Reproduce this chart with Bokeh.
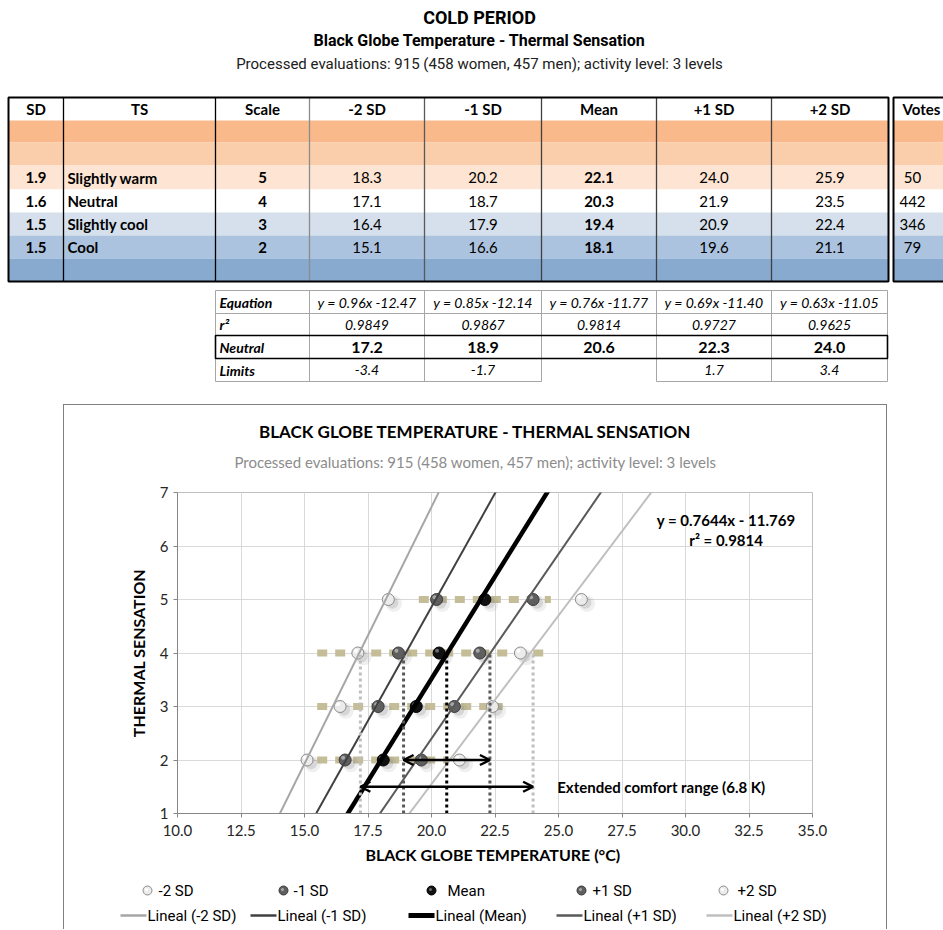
import numpy as np
from bokeh.plotting import figure
from bokeh.models import (Range1d, Label, Arrow, OpenHead, Spacer, FixedTicker,
                          NumeralTickFormatter)
from bokeh.layouts import column, row
from bokeh.embed import file_html
from bokeh.resources import INLINE
from bokeh.core.properties import value

# ---------------- data ----------------
page_title = "COLD PERIOD"
page_subtitle = "Black Globe Temperature - Thermal Sensation"
info_text = "Processed evaluations: 915 (458 women, 457 men); activity level: 3 levels"

table_headers = ["SD", "TS", "Scale", "-2 SD", "-1 SD", "Mean", "+1 SD", "+2 SD"]
sd_values = [1.9, 1.6, 1.5, 1.5]
ts_labels = ["Slightly warm", "Neutral", "Slightly cool", "Cool"]
ts_scale = [5, 4, 3, 2]
temp_m2sd = [18.3, 17.1, 16.4, 15.1]
temp_m1sd = [20.2, 18.7, 17.9, 16.6]
temp_mean = [22.1, 20.3, 19.4, 18.1]
temp_p1sd = [24.0, 21.9, 20.9, 19.6]
temp_p2sd = [25.9, 23.5, 22.4, 21.1]
votes = [50, 442, 346, 79]

series_names = ["-2 SD", "-1 SD", "Mean", "+1 SD", "+2 SD"]
fit_slopes = [0.96, 0.85, 0.7644, 0.69, 0.63]
fit_intercepts = [-12.47, -12.14, -11.769, -11.40, -11.05]
fit_r2 = [0.9849, 0.9867, 0.9814, 0.9727, 0.9625]
neutral_temps = [17.2, 18.9, 20.6, 22.3, 24.0]
limit_labels = ["-3.4", "-1.7", "", "1.7", "3.4"]

bar_levels = [5, 4, 3, 2]
bar_lo = [19.5, 15.5, 15.5, 15.5]
bar_hi = [24.7, 24.7, 22.8, 20.7]

x_ticks = [10.0, 12.5, 15.0, 17.5, 20.0, 22.5, 25.0, 27.5, 30.0, 32.5, 35.0]
y_ticks = [1, 2, 3, 4, 5, 6, 7]

chart_title = "BLACK GLOBE TEMPERATURE - THERMAL SENSATION"
x_label = "BLACK GLOBE TEMPERATURE  (\u00b0C)"
y_label = "THERMAL SENSATION"

# ---------------- styles ----------------
BODY = "Lato"
NARROW = "Roboto"

series_temps = [temp_m2sd, temp_m1sd, temp_mean, temp_p1sd, temp_p2sd]
line_colors = ["#A6A6A6", "#404040", "#000000", "#595959", "#BFBFBF"]
line_widths = [2, 2, 4.5, 2, 2]
dot_colors = ["#BFBFBF", "#595959", "#000000", "#595959", "#BFBFBF"]
mk_fill = ["#EBEBEB", "#5F5F5F", "#111111", "#5F5F5F", "#EBEBEB"]
mk_edge = ["#8C8C8C", "#3A3A3A", "#000000", "#3A3A3A", "#8C8C8C"]
mk_hi = ["#FFFFFF", "#A8A8A8", "#6A6A6A", "#A8A8A8", "#FFFFFF"]

BOX = "#7F7F7F"


def txt(p, xs, ys, texts, size="14px", style="normal", color="#000000",
        align="center", font=BODY):
    p.text(x=xs, y=ys, text=texts, text_align=align, text_baseline="middle",
           text_font=value(font), text_font_size=size, text_font_style=style,
           text_color=color)


def panel_fig(w, h, shadow):
    f = figure(width=w, height=h, x_range=Range1d(0, w), y_range=Range1d(h, 0),
               x_axis_type=None, y_axis_type=None, output_backend="svg",
               toolbar_location=None, min_border=0, outline_line_color=None,
               border_fill_color=None, background_fill_color=None,
               frame_align=False,
               styles={"box-shadow": shadow} if shadow else None)
    return f


# ================= top figure: titles + tables =================
pa = figure(width=943, height=404, x_range=Range1d(0, 943), y_range=Range1d(404, 0),
            x_axis_type=None, y_axis_type=None, output_backend="svg",
            toolbar_location=None, min_border=0, outline_line_color=None,
            frame_align=False)

txt(pa, [479], [17], [page_title], size="18px", style="bold", font=NARROW)
txt(pa, [479], [40], [page_subtitle], size="16px", style="bold", font=NARROW)
txt(pa, [479], [63], [info_text], size="15px", color="#202020", font=NARROW)

# main table
col_edges = [8, 63, 215, 309, 424, 541, 656, 771, 888]
row_edges = [97, 120, 142, 165, 189, 212, 235, 258, 281]
band_colors = ["#FFFFFF", "#F9B98B", "#FBCEAB", "#FDE4D3", "#FFFFFF",
               "#D5E0EC", "#ABC3DE", "#89AACF"]
pa.quad(left=8, right=888, top=row_edges[:-1], bottom=row_edges[1:],
        fill_color=band_colors, line_color=None)
pa.quad(left=893, right=960, top=row_edges[:-1], bottom=row_edges[1:],
        fill_color=band_colors, line_color=None)
sep_colors = ["#000000", "#000000", "#8C8C8C", "#595959", "#404040", "#404040", "#404040"]
pa.segment(x0=col_edges[1:-1], y0=97, x1=col_edges[1:-1], y1=281,
           line_color=sep_colors, line_width=1.3)
pa.quad(left=8, right=888, top=97, bottom=281, fill_color=None,
        line_color="#000000", line_width=2)
pa.quad(left=893, right=960, top=97, bottom=281, fill_color=None,
        line_color="#000000", line_width=2)

col_cx = [(a + b) / 2 for a, b in zip(col_edges[:-1], col_edges[1:])]
hdr_y = (row_edges[0] + row_edges[1]) / 2
TS_ = "15px"
txt(pa, col_cx, [hdr_y] * len(col_cx), table_headers, style="bold", size=TS_)
txt(pa, [921], [hdr_y], ["Votes"], style="bold", size=TS_)

data_y = [(row_edges[i] + row_edges[i + 1]) / 2 for i in range(3, 7)]
txt(pa, [col_cx[0]] * 4, data_y, [f"{v:.1f}" for v in sd_values], style="bold", size=TS_)
txt(pa, [67] * 4, data_y, ts_labels, style="bold", align="left", size=TS_)
txt(pa, [col_cx[2]] * 4, data_y, [str(s) for s in ts_scale], style="bold", size=TS_)
for j, temps in enumerate(series_temps):
    txt(pa, [col_cx[3 + j]] * 4, data_y, [f"{t:.1f}" for t in temps],
        style="bold" if j == 2 else "normal", size=TS_)
txt(pa, [912] * 4, data_y, [str(v) for v in votes], size=TS_)

# equation table
col2_edges = [215, 309, 424, 541, 656, 771, 887]
row2_edges = [290, 313, 335, 358, 381]
g2 = "#A6A6A6"
pa.segment(x0=215, y0=row2_edges[:3], x1=887, y1=row2_edges[:3], line_color=g2, line_width=1)
pa.segment(x0=[215, 656], y0=381, x1=[541, 887], y1=381, line_color=g2, line_width=1)
pa.segment(x0=col2_edges, y0=290, x1=col2_edges, y1=381, line_color=g2, line_width=1)
pa.quad(left=215, right=887, top=335, bottom=358, fill_color=None,
        line_color="#000000", line_width=1.6)

col2_cx = [(a + b) / 2 for a, b in zip(col2_edges[:-1], col2_edges[1:])]
row2_cy = [(a + b) / 2 for a, b in zip(row2_edges[:-1], row2_edges[1:])]
txt(pa, [219] * 4, row2_cy, ["Equation", "r\u00b2", "Neutral", "Limits"],
    style="bold italic", align="left", size="14px")
eq_texts = [f"y = {s:.2f}x {b:.2f}" for s, b in zip(fit_slopes, fit_intercepts)]
txt(pa, col2_cx[1:], [row2_cy[0]] * 5, eq_texts, style="italic", size="14px")
txt(pa, col2_cx[1:], [row2_cy[1]] * 5, [f"{r:.4f}" for r in fit_r2], style="italic", size="14px")
txt(pa, col2_cx[1:], [row2_cy[2]] * 5, [f"{n:.1f}" for n in neutral_temps], style="bold", size="16px")
txt(pa, col2_cx[1:], [row2_cy[3]] * 5, limit_labels, style="italic", size="14px")

# ================= chart box: title strip =================
BW = 824
sh_top = f"inset 1px 1px 0 0 {BOX}, inset -1px 0 0 0 {BOX}"
sh_side = f"inset 1px 0 0 0 {BOX}, inset -1px 0 0 0 {BOX}"

pt = panel_fig(BW, 78, sh_top)
txt(pt, [412], [27], [chart_title], size="17px", style="bold")
txt(pt, [412], [57], [info_text], size="15px", color="#8C8C8C")

# ================= chart figure =================
pb = figure(width=BW, height=391, x_range=Range1d(10, 35), y_range=Range1d(1, 7),
            output_backend="svg", toolbar_location=None,
            min_border_left=114, min_border_right=75, min_border_top=10,
            min_border_bottom=60, border_fill_color=None, frame_align=False,
            styles={"box-shadow": sh_side})

pb.xaxis.ticker = FixedTicker(ticks=x_ticks)
pb.xaxis.formatter = NumeralTickFormatter(format="0.0")
pb.yaxis.ticker = FixedTicker(ticks=y_ticks)
pb.xaxis.axis_label = x_label
pb.yaxis.axis_label = y_label
for ax in pb.axis:
    ax.axis_label_text_font = BODY
    ax.axis_label_text_font_style = "bold"
    ax.axis_label_text_font_size = "16px"
    ax.axis_label_text_color = "#000000"
    ax.major_label_text_font = BODY
    ax.major_label_text_font_size = "15px"
    ax.major_label_text_color = "#262626"
    ax.major_tick_in = 0
    ax.major_tick_out = 4
    ax.minor_tick_line_color = None
    ax.axis_line_color = "#868686"
    ax.major_tick_line_color = "#868686"
pb.xaxis.major_label_standoff = 7
pb.xaxis.axis_label_standoff = 6
pb.yaxis.major_label_standoff = 5
pb.yaxis.axis_label_standoff = 9
pb.grid.grid_line_color = "#D9D9D9"
pb.outline_line_color = "#BFBFBF"

# tan range bars
pb.segment(x0=bar_lo, y0=bar_levels, x1=bar_hi, y1=bar_levels,
           line_color="#C4BD97", line_width=7, line_dash="10 8", line_cap="butt")

# markers (soft shadow, body, highlight)
for j, temps in enumerate(series_temps):
    xs = np.array(temps, dtype=float)
    ys = np.array(ts_scale, dtype=float)
    pb.scatter(xs + 0.22, ys - 0.08, size=16, fill_color="#7F7F7F", fill_alpha=0.12,
               line_color=None)
    pb.scatter(xs + 0.16, ys - 0.06, size=12, fill_color="#7F7F7F", fill_alpha=0.22,
               line_color=None)
    pb.scatter(xs, ys, size=12, fill_color=mk_fill[j], line_color=mk_edge[j], line_width=1)
    pb.scatter(xs - 0.08, ys + 0.04, size=4, fill_color=mk_hi[j], line_color=None)

# trend lines
y_ends = np.array([0.5, 7.5])
for j in range(5):
    xs = (y_ends - fit_intercepts[j]) / fit_slopes[j]
    pb.line(xs, y_ends, line_color=line_colors[j], line_width=line_widths[j])

# neutral dotted verticals
pb.segment(x0=neutral_temps, y0=1, x1=neutral_temps, y1=4,
           line_color=dot_colors, line_width=3, line_dash="3 3")

# arrows
arrow_levels = [2, 1.5]
for (a, b), yl in zip([(1, 3), (0, 4)], arrow_levels):
    pb.add_layout(Arrow(start=OpenHead(size=10, line_width=2.5, line_color="black"),
                        end=OpenHead(size=10, line_width=2.5, line_color="black"),
                        x_start=neutral_temps[a], y_start=yl,
                        x_end=neutral_temps[b], y_end=yl,
                        line_width=2.5, line_color="black"))

pb.add_layout(Label(x=24.95, y=arrow_levels[1],
                    text=f"Extended comfort range ({neutral_temps[4] - neutral_temps[0]:.1f} K)",
                    text_align="left", text_baseline="middle", text_font=BODY,
                    text_font_size="15px", text_font_style="bold", text_color="#000000"))
pb.add_layout(Label(x=31.6, y=6.48,
                    text=f"y = {fit_slopes[2]}x - {abs(fit_intercepts[2])}",
                    text_align="center", text_baseline="middle", text_font=BODY,
                    text_font_size="15px", text_font_style="bold", text_color="#000000"))
pb.add_layout(Label(x=31.6, y=6.11, text=f"r\u00b2 = {fit_r2[2]}",
                    text_align="center", text_baseline="middle", text_font=BODY,
                    text_font_size="15px", text_font_style="bold", text_color="#000000"))

# ================= legend strip =================
pl = panel_fig(BW, 56, sh_side)
leg_marker_x = [84, 220, 368, 518, 660]
leg_marker_tx = [95, 230, 384, 529, 674]
leg_line_x = [57, 187, 345, 493, 643]
LEG_LEN = 26
ROW1, ROW2 = 17, 42
pl.scatter(leg_marker_x, [ROW1] * 5, size=9, fill_color=mk_fill, line_color=mk_edge)
pl.scatter([x - 1 for x in leg_marker_x], [ROW1 - 1] * 5, size=3, fill_color=mk_hi,
           line_color=None)
txt(pl, leg_marker_tx, [ROW1] * 5, series_names, size="15px", align="left", font=NARROW)
pl.segment(x0=leg_line_x, y0=ROW2, x1=[x + LEG_LEN for x in leg_line_x], y1=ROW2,
           line_color=line_colors, line_width=[w + 0.5 for w in line_widths])
txt(pl, [x + LEG_LEN + 1 for x in leg_line_x], [ROW2] * 5,
    [f"Lineal ({n})" for n in series_names], size="15px", align="left", font=NARROW)

layout = column(pa, row(Spacer(width=63, height=525), column(pt, pb, pl)))
open("out.html", "w").write(file_html(layout, INLINE))
